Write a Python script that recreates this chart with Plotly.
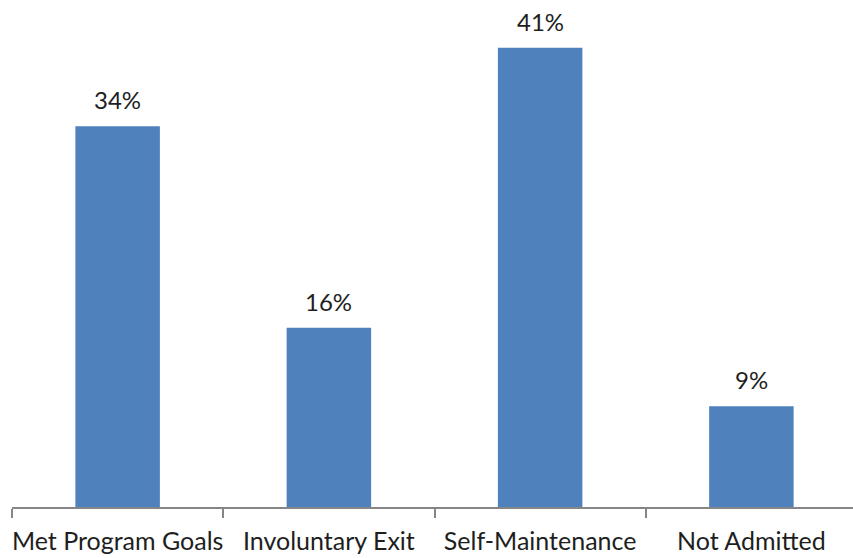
import plotly.graph_objects as go

# Program outcome shares (percent)
categories = ["Met Program Goals", "Involuntary Exit", "Self-Maintenance", "Not Admitted"]
values = [34, 16, 41, 9]
labels = [f"{v}%" for v in values]

bar_color = "#4F81BD"
axis_color = "#868686"
text_color = "#1e1e1e"
font_family = "Lato, 'Noto Sans', sans-serif"

fig = go.Figure()
fig.add_trace(go.Bar(
    x=categories,
    y=values,
    width=0.4,
    marker=dict(color=bar_color, line=dict(width=0)),
    hoverinfo="skip",
))

# Value labels above each bar
for cat, val, lab in zip(categories, values, labels):
    fig.add_annotation(
        x=cat, y=val, text=lab, showarrow=False,
        xref="x", yref="y", yanchor="bottom", yshift=10,
        font=dict(family=font_family, size=24, color=text_color),
    )

fig.update_layout(
    width=853, height=558,
    margin=dict(l=12, r=0, t=0, b=51),
    paper_bgcolor="white", plot_bgcolor="white",
    showlegend=False,
    bargap=0.6,
    font=dict(family=font_family, size=24, color=text_color),
)
fig.update_xaxes(
    type="category",
    range=[-0.5, 3.481],
    automargin=False,
    tickangle=0,
    showline=True, linecolor=axis_color, linewidth=1.5,
    ticks="outside", tickson="boundaries", ticklen=9, tickwidth=1.5, tickcolor=axis_color,
    showgrid=False, zeroline=False,
    tickfont=dict(family=font_family, size=25, color=text_color),
    ticklabelstandoff=11,
)
fig.update_yaxes(
    range=[0, 45.27],
    visible=False, showgrid=False, zeroline=False,
)

fig.write_html("out.html")
